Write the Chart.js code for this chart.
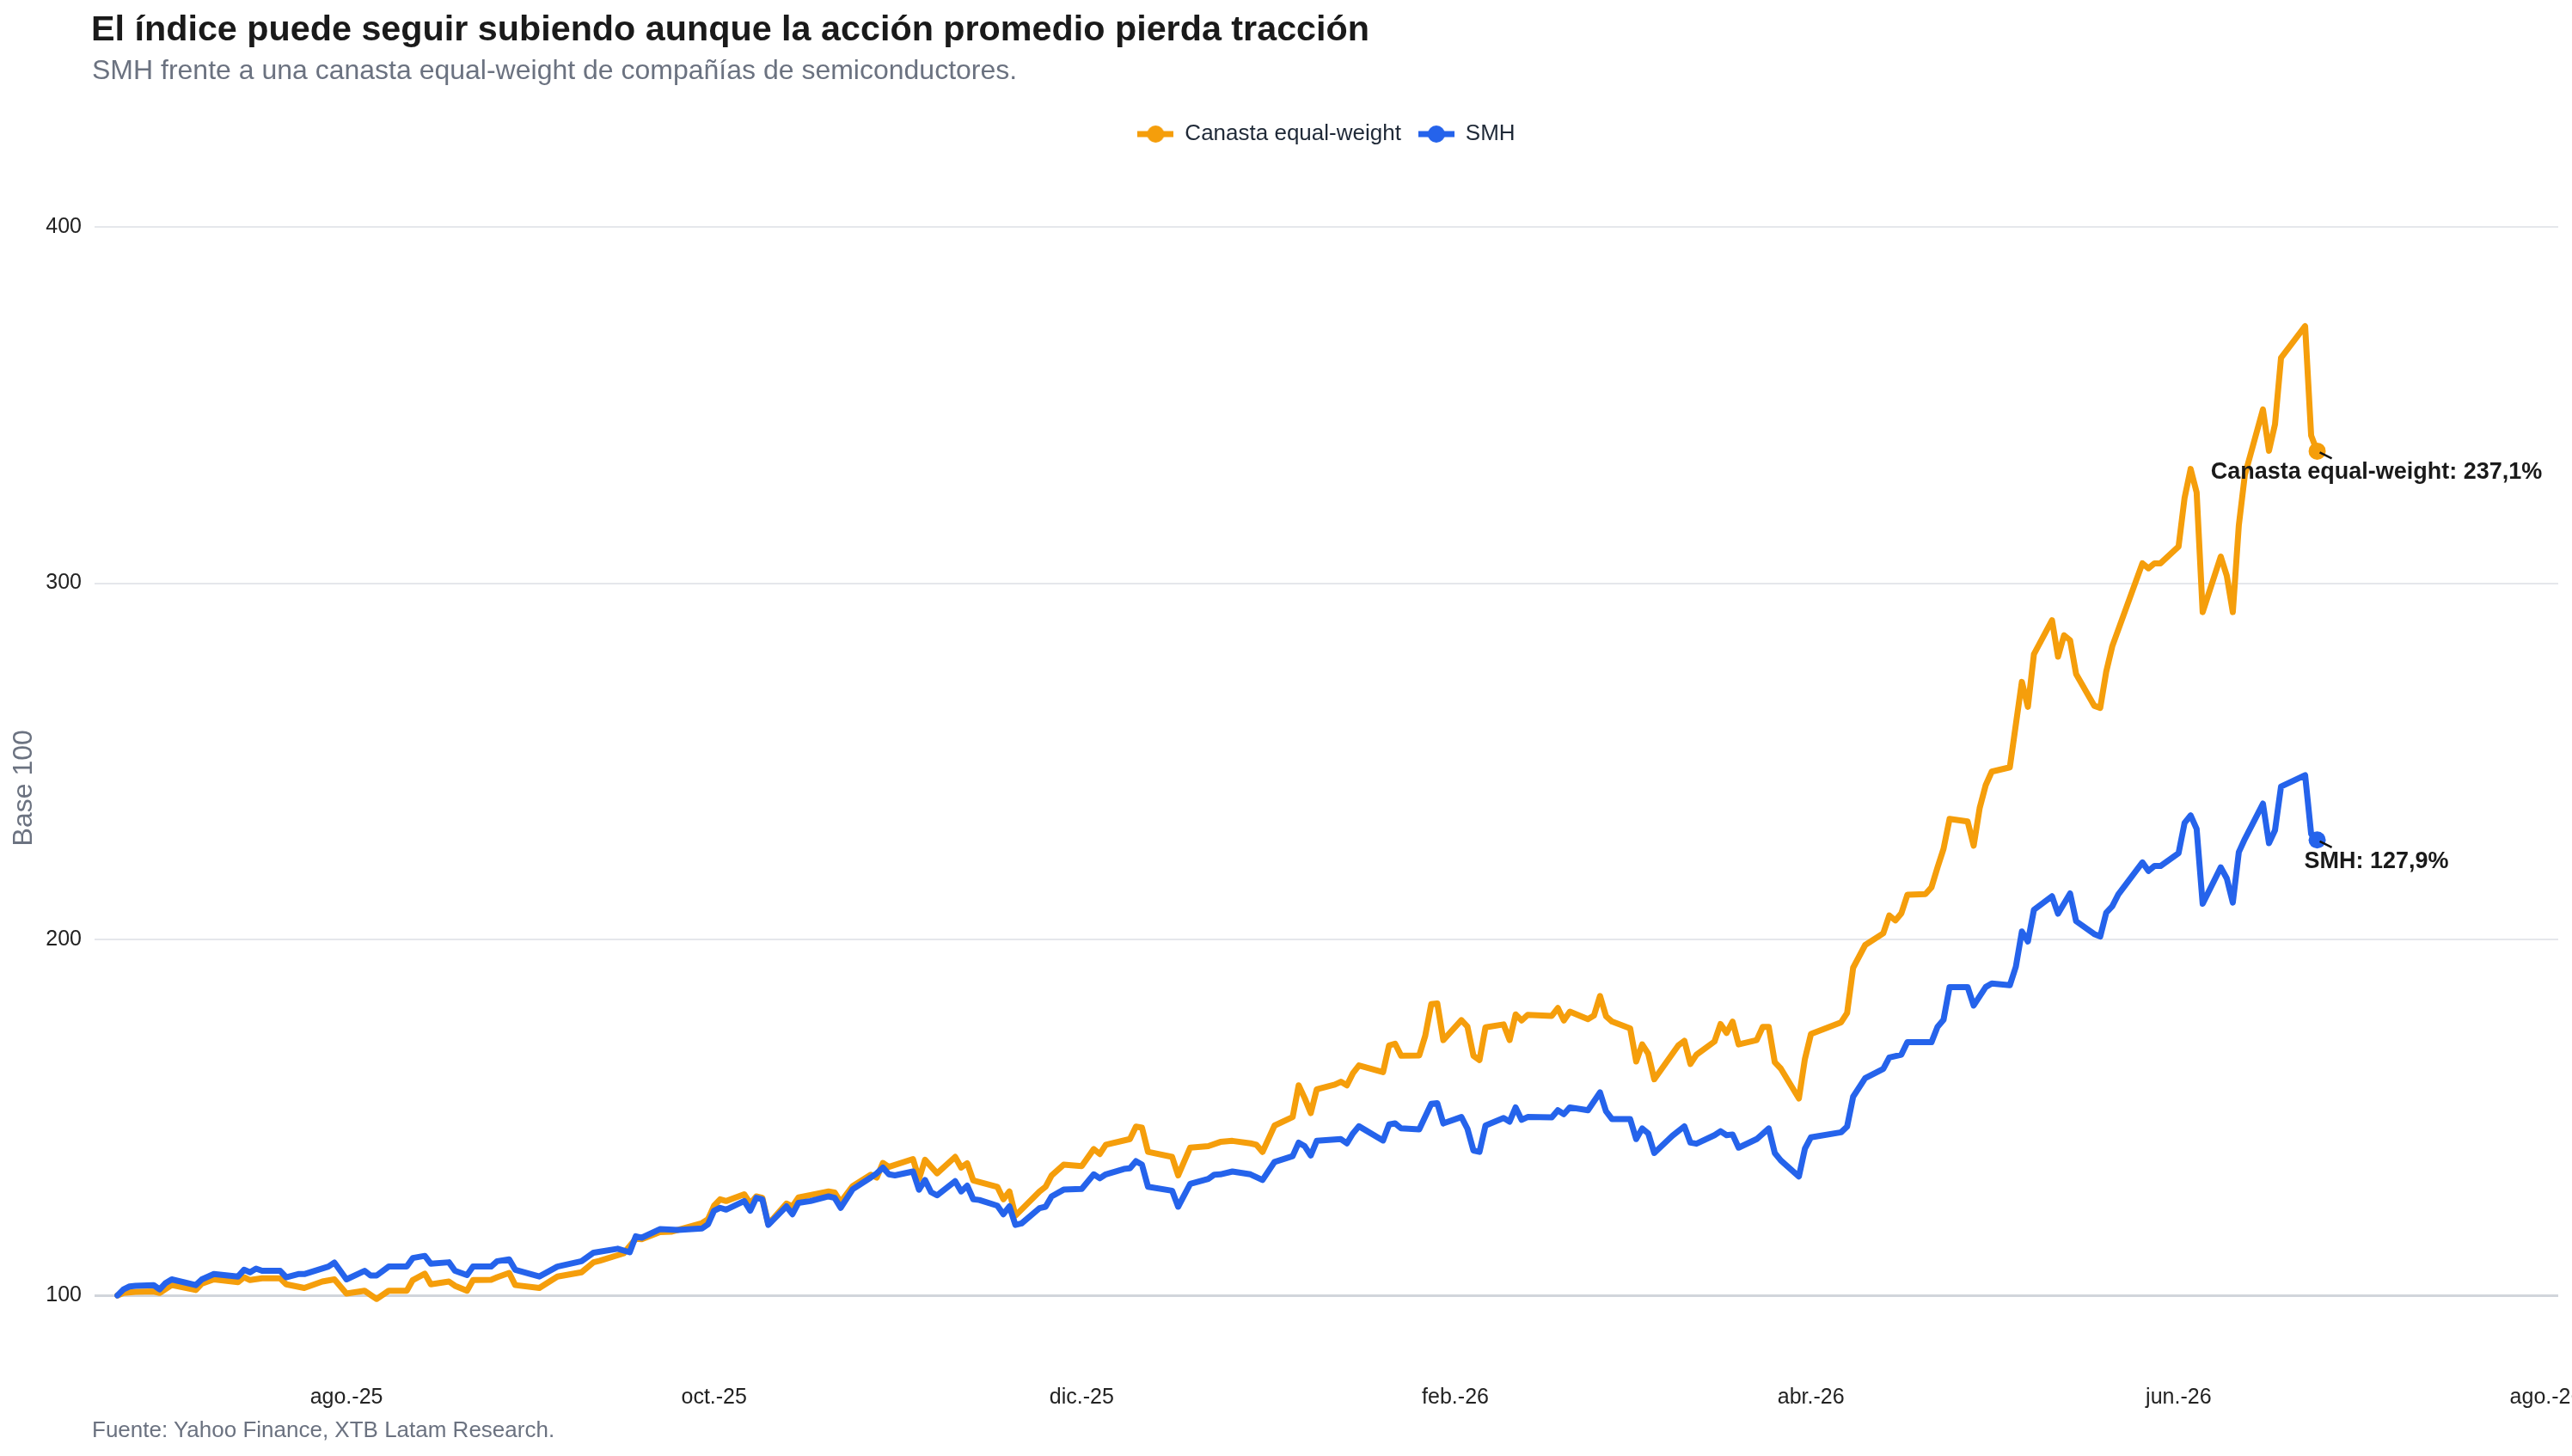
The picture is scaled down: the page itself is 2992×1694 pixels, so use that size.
<!DOCTYPE html>
<html>
<head>
<meta charset="utf-8">
<script src="https://cdn.jsdelivr.net/npm/chart.js@4.4.1/dist/chart.umd.min.js"></script>
<style>
html,body{margin:0;padding:0;background:#fff;}
#wrap{position:relative;width:2992px;height:1694px;overflow:hidden;background:#fff;}
#c{position:absolute;left:0;top:0;}
.t{position:absolute;white-space:nowrap;line-height:1;font-family:"Liberation Sans",Arial,Helvetica,sans-serif;}
#title{left:106px;top:13px;font-size:41.3px;font-weight:bold;color:#1a1a1a;}
#subtitle{left:107px;top:65px;font-size:32px;color:#6b7280;}
#source{left:107px;top:1650px;font-size:26px;color:#6b7280;}
</style>
</head>
<body>
<div id="wrap">
<canvas id="c" width="2992" height="1694"></canvas>
<div class="t" id="title">El índice puede seguir subiendo aunque la acción promedio pierda tracción</div>
<div class="t" id="subtitle">SMH frente a una canasta equal-weight de compañías de semiconductores.</div>
<div class="t" id="source">Fuente: Yahoo Finance, XTB Latam Research.</div>
</div>
<script>
// ---- Data (day offsets from 2025-06-24, trading days) ----
const seriesNames = ['Canasta equal-weight', 'SMH'];

const canastaDays = [0,1,3,6,7,9,13,14,16,20,21,22,24,27,28,31,34,36,38,41,43,45,48,49,51,52,55,56,58,59,62,63,65,66,70,73,77,79,80,84,86,87,90,92,97,98,99,100,101,104,105,106,107,108,111,112,113,115,118,119,120,122,125,126,127,128,132,133,134,136,139,140,141,142,146,147,148,149,153,154,155,157,160,162,163,164,168,169,170,171,175,176,178,181,183,185,188,189,190,192,195,196,197,198,199,202,203,204,205,206,210,211,212,213,216,217,218,219,220,223,224,225,226,227,230,231,232,233,234,238,239,240,241,244,245,246,247,248,251,252,253,254,255,259,260,261,262,265,266,267,268,269,272,273,274,275,276,279,280,281,286,287,288,289,290,293,294,295,296,297,300,301,302,303,304,307,308,309,310,311,314,316,317,318,321,322,323,324,325,328,329,330,331,336,337,338,339,342,343,344,345,346,349,350,351,352,353,356,357,358,359,363,364,365];
const canastaValues = [100,100.7,101.0,101.1,100.7,102.9,101.5,103.3,104.5,103.7,105.1,104.3,104.8,104.8,103.1,102.1,103.9,104.5,100.5,101.3,99.0,101.3,101.3,104.3,106.1,103.1,103.9,102.7,101.3,104.3,104.4,105.1,106.3,102.9,102.1,105.3,106.5,109.3,109.7,111.8,115.9,115.8,117.8,117.9,120.3,121.4,125.2,127.0,126.5,128.4,125.8,127.8,127.4,120.0,125.8,125.0,127.5,128.2,129.2,128.9,126.2,130.7,133.9,133.1,137.2,136.1,138.3,132.7,138.1,134.3,138.9,135.9,137.1,132.3,130.5,127.0,129.2,122.4,129.2,130.5,133.7,136.7,136.3,141.1,139.7,142.3,143.9,147.4,147.1,140.3,138.9,133.7,141.5,141.9,143.1,143.4,142.7,142.3,140.3,147.7,150.1,159.0,155.4,151.2,157.9,159.2,160.0,159.0,162.4,164.6,162.7,170.2,170.7,167.3,167.4,172.9,181.8,182.0,171.7,177.3,175.5,167.3,166.1,175.3,176.1,171.7,178.9,177.2,178.8,178.5,180.7,177.2,179.7,177.6,178.6,184.1,178.4,176.9,175.0,165.7,170.5,167.9,160.7,170.2,171.5,165.0,167.6,171.3,176.2,173.7,176.9,170.5,171.7,175.4,175.4,165.5,163.7,155.3,166.4,173.4,176.7,179.3,192.0,195.2,198.4,201.7,206.7,205.3,207.3,212.5,212.7,214.6,220.2,225.4,233.8,233.1,226.3,236.9,243.3,247.1,248.3,272.3,265.3,280.1,289.6,279.4,285.4,284.0,274.5,265.6,265.0,275.2,282.3,305.6,304.2,305.6,305.6,310.3,324.0,332.1,325.5,291.9,307.5,302.1,291.9,316.3,330.4,348.8,337.2,344.6,363.3,372.2,341.5,337.1];

const smhDays = [0,1,2,3,6,7,8,9,13,14,16,20,21,22,23,24,27,28,30,31,35,36,38,41,42,43,45,48,49,51,52,55,56,58,59,62,63,65,66,70,73,77,79,83,85,86,87,90,93,97,98,99,100,101,104,105,106,107,108,111,112,113,115,118,119,120,122,125,126,127,128,129,132,133,134,135,136,139,140,141,142,143,146,147,148,149,150,153,154,155,157,160,162,163,164,167,168,169,170,171,175,176,178,181,182,183,185,188,190,192,195,196,197,198,199,203,204,205,206,210,211,212,213,216,218,219,220,223,224,225,226,227,230,231,232,233,234,238,239,240,241,244,246,247,248,251,252,253,254,255,258,260,261,262,265,266,267,268,269,272,274,275,276,279,280,281,286,287,288,290,293,294,296,297,301,302,303,304,307,308,310,311,314,315,316,317,318,321,322,324,325,328,329,330,331,332,336,337,338,339,342,343,344,345,346,349,350,351,352,353,356,357,358,359,363,364,365];
const smhValues = [100,101.7,102.5,102.7,102.9,101.7,103.5,104.5,102.9,104.5,106.0,105.3,107.2,106.5,107.5,106.9,106.9,105.1,106.0,106.0,108.1,109.2,104.5,106.9,105.6,105.6,108.1,108.1,110.5,111.1,108.9,109.3,106.9,105.7,108.1,108.1,109.6,110.1,107.2,105.3,108.1,109.6,112.0,113.1,112.1,116.6,116.2,118.6,118.4,118.8,120.0,123.8,124.6,124.1,126.5,123.8,127.4,127.0,119.8,125.0,122.8,126.0,126.5,127.8,127.4,124.6,129.8,133.1,134.3,135.9,134.0,133.7,134.8,129.7,132.4,129.0,128.1,132.1,129.2,130.8,127.0,126.8,125.2,122.8,125.0,119.8,120.2,124.5,124.9,127.8,129.7,129.9,134.0,132.9,134.0,135.5,135.7,137.7,136.7,130.5,129.4,124.9,131.3,132.7,133.9,134.0,134.8,134.0,132.4,137.5,139.1,142.9,141.9,139.3,143.4,143.9,142.7,145.5,147.5,143.5,148.0,148.3,146.9,146.6,153.8,154.0,148.3,150.1,146.8,140.7,140.3,147.7,149.8,148.8,152.8,149.3,150.1,150.0,152.0,150.9,152.8,152.0,157.0,151.7,149.5,149.5,143.9,146.9,145.5,140.0,144.8,147.5,142.9,142.6,145.0,146.1,145.0,145.2,141.5,143.9,146.9,140.0,137.9,133.4,141.2,144.4,145.8,147.4,155.8,161.0,163.6,166.8,167.6,171.1,171.1,175.4,177.4,186.6,186.6,181.4,186.6,187.6,187.1,192.3,202.2,199.4,208.3,212.1,207.2,212.9,205.1,201.5,200.8,207.5,209.3,212.6,221.6,219.2,220.6,220.6,224.2,232.7,234.8,231.0,210.0,220.2,217.1,210.3,224.5,228.2,238.1,227.0,230.6,242.9,246.1,229.6,227.9];

// x tick positions (day offsets) and their labels
const tickDays = [38, 99, 160, 222, 281, 342, 403];
const tickLabels = ['ago.-25', 'oct.-25', 'dic.-25', 'feb.-26', 'abr.-26', 'jun.-26', 'ago.-26'];
const yTickValues = [100, 200, 300, 400];

// ---- Styling ----
const FONT = '"Liberation Sans", Arial, Helvetica, sans-serif';
const COLORS = ['#f59e0b', '#2563eb'];
Chart.defaults.font.family = FONT;

function legendImg(color) {
  const c = document.createElement('canvas');
  c.width = 42; c.height = 22;
  const g = c.getContext('2d');
  g.strokeStyle = color; g.lineWidth = 7;
  g.beginPath(); g.moveTo(0, 11); g.lineTo(42, 11); g.stroke();
  g.fillStyle = color;
  g.beginPath(); g.arc(21, 11, 10, 0, Math.PI * 2); g.fill();
  return c;
}
const legendImgs = COLORS.map(legendImg);

const legendSpace = {
  id: 'legendSpace',
  beforeLayout(chart) {
    const lg = chart.legend;
    if (lg && !lg._patched) {
      const orig = lg.fit;
      lg.fit = function () { orig.call(this); this.height = 120.6; };
      lg._patched = true;
    }
  }
};

const endLabels = {
  id: 'endLabels',
  afterDatasetsDraw(chart) {
    const ctx = chart.ctx;
    chart.data.datasets.forEach((ds, i) => {
      const meta = chart.getDatasetMeta(i);
      const pt = meta.data[meta.data.length - 1];
      const v = ds.data[ds.data.length - 1].y;
      const txt = ds.label + ': ' + (v - 100).toFixed(1).replace('.', ',') + '%';
      ctx.save();
      ctx.strokeStyle = '#111';
      ctx.lineWidth = 2.5;
      ctx.beginPath();
      ctx.moveTo(pt.x + 3, pt.y + 1.5);
      ctx.lineTo(pt.x + 17, pt.y + 8.5);
      ctx.stroke();
      ctx.font = 'bold 27px ' + FONT;
      ctx.fillStyle = '#1a1a1a';
      ctx.textAlign = 'center';
      ctx.textBaseline = 'middle';
      ctx.fillText(txt, pt.x + 69, pt.y + 25);
      ctx.restore();
    });
  }
};

function makeDataset(idx, days, values, order) {
  const n = values.length;
  return {
    label: seriesNames[idx],
    data: days.map((d, i) => ({ x: d, y: values[i] })),
    borderColor: COLORS[idx],
    backgroundColor: COLORS[idx],
    borderWidth: 7,
    borderJoinStyle: 'round',
    borderCapStyle: 'round',
    tension: 0,
    pointRadius: (c) => (c.dataIndex === n - 1 ? 10 : 0),
    pointHoverRadius: 0,
    pointBackgroundColor: COLORS[idx],
    pointBorderWidth: 0,
    order: order
  };
}

new Chart(document.getElementById('c'), {
  type: 'line',
  data: {
    datasets: [
      makeDataset(0, canastaDays, canastaValues, 1),
      makeDataset(1, smhDays, smhValues, 0)
    ]
  },
  options: {
    responsive: false,
    devicePixelRatio: 1,
    animation: false,
    layout: { padding: { left: 0, right: 16, top: 123, bottom: 0 } },
    plugins: {
      tooltip: { enabled: false },
      legend: {
        position: 'top',
        fullSize: false,
        align: 'center',
        labels: {
          usePointStyle: true,
          pointStyleWidth: 42,
          padding: 20,
          color: '#1f2937',
          font: { size: 26, family: FONT },
          generateLabels: (chart) => chart.data.datasets.map((ds, i) => ({
            text: ds.label,
            fillStyle: ds.borderColor,
            strokeStyle: ds.borderColor,
            lineWidth: 0,
            pointStyle: legendImgs[i],
            datasetIndex: i,
            hidden: false,
            fontColor: '#1f2937'
          }))
        }
      }
    },
    scales: {
      x: {
        type: 'linear',
        min: -3.8,
        max: 405,
        afterBuildTicks: (s) => { s.ticks = tickDays.map(v => ({ value: v })); },
        afterFit: (s) => { s.height = 104; s.paddingLeft = 0; s.paddingRight = 0; },
        grid: { display: false, drawTicks: false },
        border: { display: false },
        ticks: {
          autoSkip: false,
          maxRotation: 0,
          padding: 21,
          color: '#222',
          font: { size: 25 },
          callback: (val) => tickLabels[tickDays.indexOf(val)]
        }
      },
      y: {
        min: 80,
        max: 405,
        afterBuildTicks: (s) => { s.ticks = yTickValues.map(v => ({ value: v })); },
        afterFit: (s) => { s.width = 110; s.paddingTop = 0; s.paddingBottom = 0; },
        grid: {
          drawTicks: false,
          color: (c) => (c.tick && c.tick.value === 100 ? '#d1d5db' : '#e5e7eb'),
          lineWidth: (c) => (c.tick && c.tick.value === 100 ? 3 : 2)
        },
        border: { display: false },
        ticks: { padding: 15, color: '#222', font: { size: 25 } },
        title: {
          display: true,
          text: 'Base 100',
          color: '#6b7280',
          font: { size: 32 },
          padding: { top: 9, bottom: 0 }
        }
      }
    }
  },
  plugins: [legendSpace, endLabels]
});
</script>
</body>
</html>
